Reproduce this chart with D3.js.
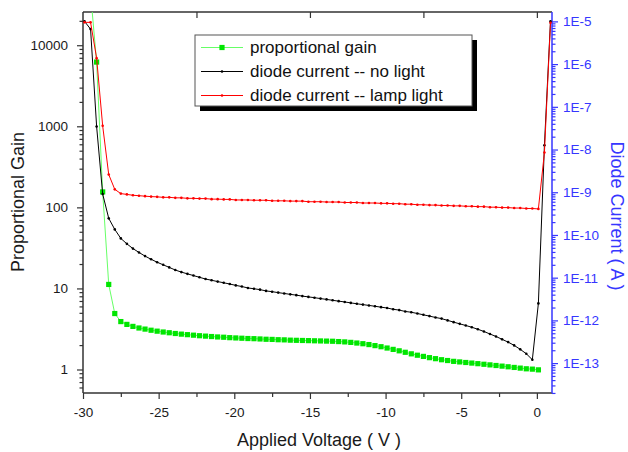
<!DOCTYPE html>
<html lang="en">
<head>
<meta charset="UTF-8">
<title>Proportional Gain and Diode Current vs Applied Voltage</title>
<script src="https://d3js.org/d3.v7.min.js"></script>
<style>
  body { margin: 0; background: #fff; font-family: Arial, "Liberation Sans", sans-serif; }
  svg { display: block; }
  .axis text { font-family: Arial, "Liberation Sans", sans-serif; font-size: 13.5px; }
</style>
</head>
<body>
<svg id="chart"></svg>
<script>
// applied voltage (V) for every sample
const voltage = [
  -29.9, -29.5, -29.1, -28.7, -28.3, -27.9, -27.5, -27.1, -26.7, -26.3,
  -25.9, -25.5, -25.1, -24.7, -24.3, -23.9, -23.5, -23.1, -22.7, -22.3,
  -21.9, -21.5, -21.1, -20.7, -20.3, -19.9, -19.5, -19.1, -18.7, -18.3,
  -17.9, -17.5, -17.1, -16.7, -16.3, -15.9, -15.5, -15.1, -14.7, -14.3,
  -13.9, -13.5, -13.1, -12.7, -12.3, -11.9, -11.5, -11.1, -10.7, -10.3,
  -9.9, -9.5, -9.1, -8.7, -8.3, -7.9, -7.5, -7.1, -6.7, -6.3,
  -5.9, -5.5, -5.1, -4.7, -4.3, -3.9, -3.5, -3.1, -2.7, -2.3,
  -1.9, -1.5, -1.1, -0.7, -0.3, 0.1, 0.5, 0.9
];

// proportional gain (left axis)
const gain = [
  null, 44000, 6200, 155, 11.2, 4.9, 3.9, 3.6, 3.4, 3.25,
  3.15, 3.05, 2.97, 2.9, 2.84, 2.78, 2.73, 2.69, 2.65, 2.61,
  2.58, 2.55, 2.52, 2.5, 2.47, 2.45, 2.43, 2.41, 2.4, 2.38,
  2.36, 2.35, 2.33, 2.32, 2.3, 2.29, 2.28, 2.27, 2.26, 2.25,
  2.24, 2.23, 2.21, 2.19, 2.16, 2.12, 2.08, 2.03, 1.97, 1.91,
  1.84, 1.77, 1.70, 1.63, 1.56, 1.50, 1.45, 1.40, 1.36, 1.32,
  1.29, 1.26, 1.24, 1.22, 1.20, 1.18, 1.16, 1.14, 1.12, 1.10,
  1.08, 1.06, 1.04, 1.02, 1.01, 0.99, null, null
];

// diode current, no light (A, right axis)
const darkCurrent = [
  1.0e-5, 6.6e-6, 3.47e-8, 9.1e-10, 2.45e-10, 1.35e-10, 8.3e-11, 6.2e-11, 4.8e-11, 3.9e-11,
  3.2e-11, 2.7e-11, 2.3e-11, 2.0e-11, 1.74e-11, 1.51e-11, 1.35e-11, 1.23e-11, 1.12e-11, 1.02e-11,
  9.3e-12, 8.7e-12, 8.1e-12, 7.6e-12, 7.1e-12, 6.6e-12, 6.2e-12, 5.75e-12, 5.5e-12, 5.25e-12,
  4.9e-12, 4.7e-12, 4.47e-12, 4.27e-12, 4.07e-12, 3.9e-12, 3.7e-12, 3.55e-12, 3.4e-12, 3.24e-12,
  3.1e-12, 2.95e-12, 2.82e-12, 2.7e-12, 2.57e-12, 2.45e-12, 2.34e-12, 2.24e-12, 2.14e-12, 2.04e-12,
  1.95e-12, 1.82e-12, 1.74e-12, 1.62e-12, 1.55e-12, 1.45e-12, 1.35e-12, 1.26e-12, 1.17e-12, 1.10e-12,
  1.0e-12, 9.1e-13, 8.3e-13, 7.6e-13, 6.9e-13, 6.2e-13, 5.5e-13, 4.8e-13, 4.2e-13, 3.6e-13,
  3.1e-13, 2.6e-13, 2.1e-13, 1.66e-13, 1.2e-13, 2.5e-12, 1.26e-8, 1.0e-5
];

// diode current, lamp light (A, right axis)
const lampCurrent = [
  9.5e-6, 9.5e-6, 1.38e-6, 3.6e-8, 2.6e-9, 1.17e-9, 9.3e-10, 8.9e-10, 8.5e-10, 8.3e-10,
  8.1e-10, 7.9e-10, 7.8e-10, 7.6e-10, 7.6e-10, 7.4e-10, 7.4e-10, 7.2e-10, 7.2e-10, 7.1e-10,
  7.1e-10, 6.9e-10, 6.9e-10, 6.8e-10, 6.8e-10, 6.6e-10, 6.6e-10, 6.6e-10, 6.5e-10, 6.5e-10,
  6.5e-10, 6.3e-10, 6.3e-10, 6.3e-10, 6.2e-10, 6.2e-10, 6.2e-10, 6.0e-10, 6.0e-10, 6.0e-10,
  5.9e-10, 5.9e-10, 5.9e-10, 5.75e-10, 5.75e-10, 5.75e-10, 5.6e-10, 5.6e-10, 5.6e-10, 5.5e-10,
  5.5e-10, 5.4e-10, 5.4e-10, 5.25e-10, 5.25e-10, 5.1e-10, 5.1e-10, 5.0e-10, 5.0e-10, 4.9e-10,
  4.9e-10, 4.8e-10, 4.8e-10, 4.7e-10, 4.7e-10, 4.6e-10, 4.6e-10, 4.47e-10, 4.47e-10, 4.37e-10,
  4.37e-10, 4.27e-10, 4.27e-10, 4.17e-10, 4.17e-10, 4.07e-10, 8.5e-9, 9.3e-6
];

const voltageTicks = [-30, -25, -20, -15, -10, -5, 0];
const voltageMinorTicks = [-27.5, -22.5, -17.5, -12.5, -7.5, -2.5];
const topTicks = [-22.5, -15, -7.5, 0];
const gainTicks = [1, 10, 100, 1000, 10000];
const currentTicks = [1e-13, 1e-12, 1e-11, 1e-10, 1e-9, 1e-8, 1e-7, 1e-6, 1e-5];
const legendLabels = ["proportional gain", "diode current -- no light", "diode current -- lamp light"];

const width = 628, height = 452;
const plotLeft = 83, plotRight = 552, plotTop = 12, plotBottom = 393;
const axisGrey = "#333";
const blue = "#3636ff";

const svg = d3.select("#chart").attr("width", width).attr("height", height);

const x = d3.scaleLinear().domain([-30, 1]).range([plotLeft, plotRight]);
const yGain = d3.scaleLog().domain([Math.pow(10, -0.29), Math.pow(10, 4.41)]).range([plotBottom, plotTop]);
const yCur = d3.scaleLog().domain([Math.pow(10, -13.70), Math.pow(10, -4.78)]).range([plotBottom, plotTop]);

// minor log ticks 2..9 inside the domain
function minorLog(scale) {
  const [d0, d1] = scale.domain();
  const out = [];
  for (let e = Math.floor(Math.log10(d0)); e <= Math.ceil(Math.log10(d1)); e++) {
    for (let m = 2; m <= 9; m++) {
      const v = m * Math.pow(10, e);
      if (v >= d0 && v <= d1) out.push(v);
    }
  }
  return out;
}

function styleAxis(g, color) {
  g.select(".domain").remove();
  g.selectAll(".tick line").attr("stroke", color).attr("stroke-width", 1.2);
  g.selectAll(".tick text").attr("fill", color === axisGrey ? "#1a1a1a" : color);
}

// bottom axis
svg.append("g").attr("class", "axis").attr("transform", `translate(0,${plotBottom})`)
  .call(d3.axisBottom(x).tickValues(voltageTicks).tickSize(6).tickPadding(8)
    .tickFormat(d => String(d)).tickSizeOuter(0))
  .call(g => styleAxis(g, axisGrey));
svg.append("g").attr("class", "axis").attr("transform", `translate(0,${plotBottom})`)
  .call(d3.axisBottom(x).tickValues(voltageMinorTicks).tickSize(4).tickFormat("").tickSizeOuter(0))
  .call(g => styleAxis(g, axisGrey));

// top axis, ticks inward
svg.append("g").attr("class", "axis").attr("transform", `translate(0,${plotTop})`)
  .call(d3.axisTop(x).tickValues(topTicks).tickSize(-6).tickFormat("").tickSizeOuter(0))
  .call(g => styleAxis(g, axisGrey));

// left axis
svg.append("g").attr("class", "axis").attr("transform", `translate(${plotLeft},0)`)
  .call(d3.axisLeft(yGain).tickValues(gainTicks).tickSize(6).tickPadding(9).tickFormat(d => String(d)).tickSizeOuter(0))
  .call(g => styleAxis(g, axisGrey));
svg.append("g").attr("class", "axis").attr("transform", `translate(${plotLeft},0)`)
  .call(d3.axisLeft(yGain).tickValues(minorLog(yGain)).tickSize(3.5).tickFormat("").tickSizeOuter(0))
  .call(g => styleAxis(g, axisGrey));

// right axis
svg.append("g").attr("class", "axis").attr("transform", `translate(${plotRight},0)`)
  .call(d3.axisRight(yCur).tickValues(currentTicks).tickSize(6).tickPadding(5)
    .tickFormat(d => "1E" + Math.round(Math.log10(d))).tickSizeOuter(0))
  .call(g => styleAxis(g, blue));
svg.append("g").attr("class", "axis").attr("transform", `translate(${plotRight},0)`)
  .call(d3.axisRight(yCur).tickValues(minorLog(yCur)).tickSize(3.5).tickFormat("").tickSizeOuter(0))
  .call(g => styleAxis(g, blue));

// frame
svg.append("line").attr("x1", plotLeft).attr("x2", plotRight).attr("y1", plotTop).attr("y2", plotTop)
  .attr("stroke", axisGrey).attr("stroke-width", 1.5);
svg.append("line").attr("x1", plotLeft).attr("x2", plotRight).attr("y1", plotBottom).attr("y2", plotBottom)
  .attr("stroke", axisGrey).attr("stroke-width", 1.5);
svg.append("line").attr("x1", plotLeft).attr("x2", plotLeft).attr("y1", plotTop).attr("y2", plotBottom)
  .attr("stroke", axisGrey).attr("stroke-width", 1.5);
svg.append("line").attr("x1", plotRight).attr("x2", plotRight).attr("y1", plotTop).attr("y2", plotBottom)
  .attr("stroke", blue).attr("stroke-width", 1.5);

// data
svg.append("clipPath").attr("id", "plot-clip")
  .append("rect").attr("x", plotLeft).attr("y", plotTop)
  .attr("width", plotRight - plotLeft).attr("height", plotBottom - plotTop);
const plot = svg.append("g").attr("clip-path", "url(#plot-clip)");

const series = [
  { values: gain, scale: yGain, line: "#66ff66", marker: "#00e600", square: true },
  { values: darkCurrent, scale: yCur, line: "#000", marker: "#000", square: false },
  { values: lampCurrent, scale: yCur, line: "#ff0000", marker: "#ff0000", square: false }
];

series.forEach(s => {
  const pts = voltage.map((v, i) => ({ v, y: s.values[i] })).filter(d => d.y != null);
  plot.append("path")
    .datum(pts)
    .attr("fill", "none")
    .attr("stroke", s.line)
    .attr("stroke-width", 1)
    .attr("d", d3.line().x(d => x(d.v)).y(d => s.scale(d.y)));
  if (s.square) {
    plot.selectAll(null).data(pts).enter().append("rect")
      .attr("x", d => x(d.v) - 2.6).attr("y", d => s.scale(d.y) - 2.6)
      .attr("width", 5.2).attr("height", 5.2).attr("fill", s.marker);
  } else {
    plot.selectAll(null).data(pts).enter().append("circle")
      .attr("cx", d => x(d.v)).attr("cy", d => s.scale(d.y))
      .attr("r", 1.3).attr("fill", s.marker);
  }
});

// axis titles
svg.append("text").attr("x", 319).attr("y", 446).attr("text-anchor", "middle")
  .attr("font-size", 18).attr("fill", "#1a1a1a").text("Applied Voltage ( V )");
svg.append("text").attr("transform", "translate(24,202) rotate(-90)").attr("text-anchor", "middle")
  .attr("font-size", 18).attr("fill", "#1a1a1a").text("Proportional Gain");
svg.append("text").attr("transform", "translate(611,216) rotate(90)").attr("text-anchor", "middle")
  .attr("font-size", 18).attr("fill", blue).text("Diode Current ( A )");

// legend
const lg = svg.append("g");
lg.append("rect").attr("x", 200).attr("y", 40).attr("width", 277).attr("height", 71).attr("fill", "#000");
lg.append("rect").attr("x", 195).attr("y", 35).attr("width", 277).attr("height", 71)
  .attr("fill", "#fff").attr("stroke", "#555").attr("stroke-width", 1);
legendLabels.forEach((label, i) => {
  const s = series[i];
  const yy = 47.5 + i * 24;
  lg.append("line").attr("x1", 201).attr("x2", 243).attr("y1", yy).attr("y2", yy)
    .attr("stroke", s.line).attr("stroke-width", 1);
  if (s.square) {
    lg.append("rect").attr("x", 219.4).attr("y", yy - 2.6).attr("width", 5.2).attr("height", 5.2).attr("fill", s.marker);
  } else {
    lg.append("circle").attr("cx", 222).attr("cy", yy).attr("r", 1.3).attr("fill", s.marker);
  }
  lg.append("text").attr("x", 250).attr("y", yy).attr("dy", "0.35em")
    .attr("font-size", 17).attr("fill", "#111").text(label);
});
</script>
</body>
</html>
